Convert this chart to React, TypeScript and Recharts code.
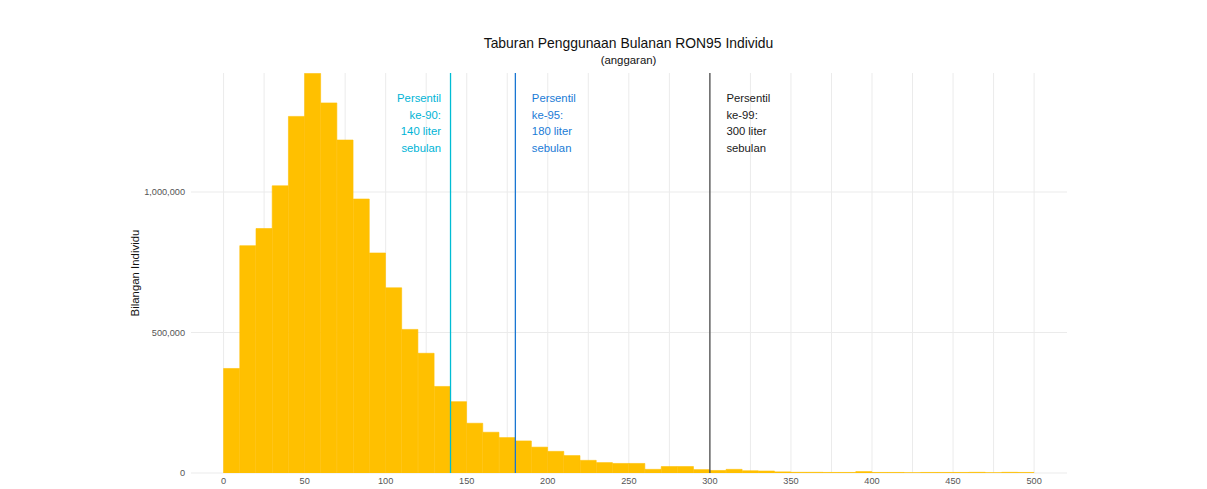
import React from "react";
import {
  BarChart, Bar, XAxis, YAxis, CartesianGrid, ReferenceLine,
} from "recharts";

// histogram bins, 10 liter wide, starting value of each bin
const binStarts = [
  0, 10, 20, 30, 40, 50, 60, 70, 80, 90,
  100, 110, 120, 130, 140, 150, 160, 170, 180, 190,
  200, 210, 220, 230, 240, 250, 260, 270, 280, 290,
  300, 310, 320, 330, 340, 350, 360, 370, 380, 390,
  400, 410, 420, 430, 440, 450, 460, 470, 480, 490,
];

const counts = [
  372000, 809000, 870000, 1022000, 1269000, 1422000, 1317000, 1185000, 975000, 783000,
  659000, 511000, 426000, 308000, 254000, 177000, 145000, 126000, 114000, 92000,
  77000, 62000, 45000, 37000, 34000, 34000, 13000, 23000, 23000, 12000,
  9000, 13000, 8000, 7000, 4000, 2500, 2500, 2000, 2000, 5000,
  2000, 2000, 1000, 2000, 2000, 2000, 2500, 1000, 2500, 2000,
];

const xTicks = [0, 50, 100, 150, 200, 250, 300, 350, 400, 450, 500];
const xGrid = [0, 25, 50, 75, 100, 125, 150, 175, 200, 225, 250, 275, 300, 325, 350, 375, 400, 425, 450, 475, 500];
const yTicks = [0, 500000, 1000000];

const percentiles = [
  { value: 140, lines: ["Persentil", "ke-90:", "140 liter", "sebulan"], line: "#00BCD4", text: "#00B4D6", side: "left" },
  { value: 180, lines: ["Persentil", "ke-95:", "180 liter", "sebulan"], line: "#1976D2", text: "#1A7BD6", side: "right" },
  { value: 300, lines: ["Persentil", "ke-99:", "300 liter", "sebulan"], line: "#4D4D4D", text: "#1A1A1A", side: "right" },
];

const data = binStarts.map((start, i) => ({ mid: start + 5, count: counts[i] }));

const font = "'Liberation Sans', Arial, sans-serif";

const fmt = (v: number) => v.toLocaleString("en-US");

function pctLabel(p: any, lines: string[], color: string, side: string) {
  const vb = p.viewBox || {};
  const x = side === "left" ? vb.x - 9.5 : vb.x + 16.5;
  return (
    <text
      x={x}
      y={102}
      fill={color}
      fontSize={11.3}
      fontFamily={font}
      textAnchor={side === "left" ? "end" : "start"}
    >
      {lines.map((l, i) => (
        <tspan key={i} x={x} dy={i === 0 ? 0 : 16.7}>{l}</tspan>
      ))}
    </text>
  );
}

export default function App() {
  return (
    <div style={{ position: "absolute", left: 0, top: 0, width: 1207, height: 489, background: "#fff", fontFamily: font }}>
      <div style={{ position: "absolute", left: 0, width: 1257, top: 35, textAlign: "center", fontSize: 13.9, color: "#111" }}>
        Taburan Penggunaan Bulanan RON95 Individu
      </div>
      <div style={{ position: "absolute", left: 0, width: 1257, top: 54, textAlign: "center", fontSize: 11.4, color: "#111" }}>
        (anggaran)
      </div>
      <BarChart
        width={1207}
        height={489}
        data={data}
        margin={{ top: 73, right: 140, left: 0, bottom: 0 }}
        barCategoryGap={0}
        barGap={0}
        style={{ position: "absolute", left: 0, top: 0 }}
      >
        <CartesianGrid
          stroke="#EBEBEB"
          verticalValues={xGrid}
          horizontalValues={yTicks}
        />
        <XAxis
          type="number"
          dataKey="mid"
          domain={[-20.1, 520.3]}
          ticks={xTicks}
          allowDataOverflow
          height={16}
          axisLine={false}
          tickLine={false}
          tickSize={2}
          tickMargin={2}
          tick={{ fontSize: 9.2, fill: "#555", fontFamily: font }}
        />
        <YAxis
          type="number"
          domain={[0, 1423500]}
          ticks={yTicks}
          allowDataOverflow
          width={191}
          axisLine={false}
          tickLine={false}
          tickSize={4}
          tickMargin={2}
          tickFormatter={fmt}
          tick={{ fontSize: 9.2, fill: "#555", fontFamily: font }}
          label={() => (
            <text
              x={139}
              y={273}
              transform="rotate(-90 139 273)"
              textAnchor="middle"
              fontSize={11.4}
              fontFamily={font}
              fill="#111"
            >
              Bilangan Individu
            </text>
          )}
        />
        <Bar
          dataKey="count"
          fill="#FFC000"
          stroke="#FFC000"
          strokeWidth={0.6}
          isAnimationActive={false}
        />
        {percentiles.map((p) => (
          <ReferenceLine
            key={p.value}
            x={p.value}
            stroke={p.line}
            strokeWidth={1.3}
            label={(lp: any) => pctLabel(lp, p.lines, p.text, p.side)}
          />
        ))}
      </BarChart>
    </div>
  );
}
